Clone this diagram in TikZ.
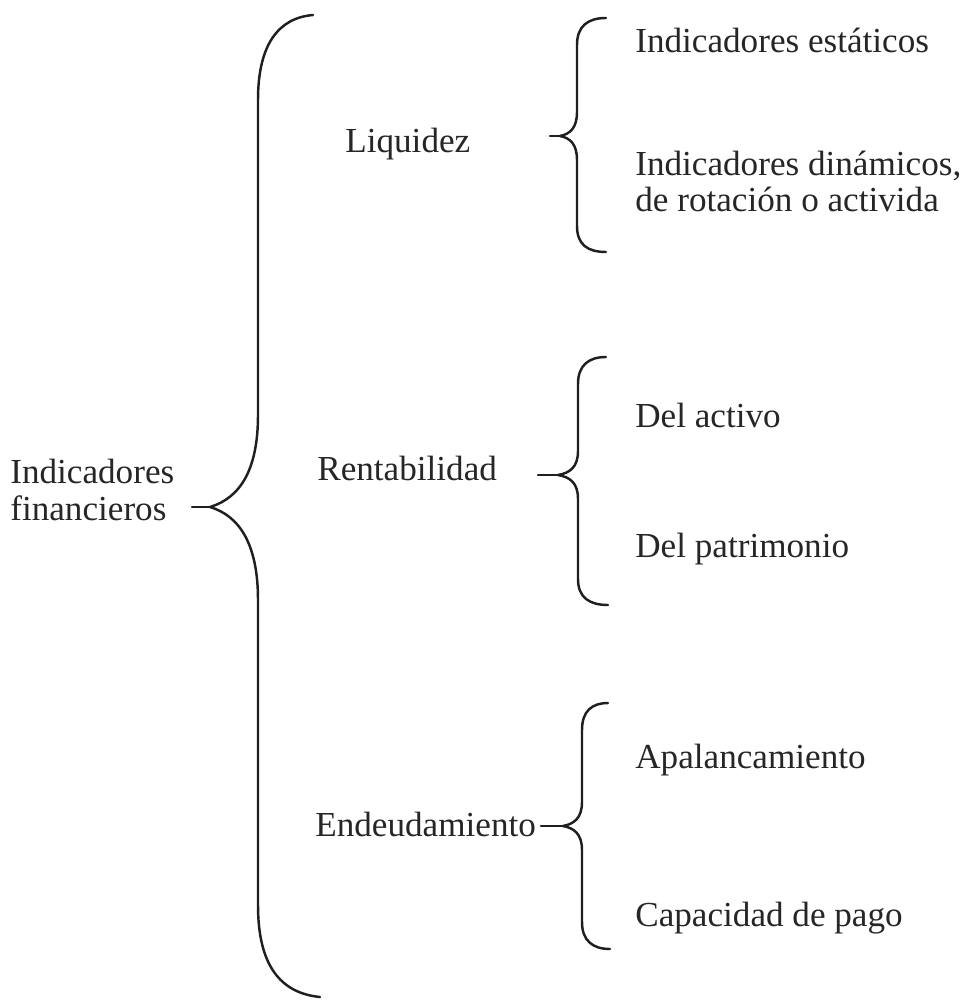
\documentclass[tikz,border=0pt]{standalone}
\usepackage{fontspec}
\setmainfont{Liberation Serif}
\tikzset{
  texto/.style={anchor=base west, inner sep=0pt, align=left, text=black!85,
    font=\fontsize{20}{21}\selectfont},
  llave/.style={line width=1.4pt, draw=black!88, line cap=round},
}
\begin{document}
\begin{tikzpicture}[x=0.02cm,y=-0.02cm]
\useasboundingbox (0,0) rectangle (967,1000);

\node[texto] (ind) at (10,520) {Indicadores\\financieros};
\node[texto] (liq) at (345,153) {Liquidez};
\node[texto] (ren) at (317,480) {Rentabilidad};
\node[texto] (end) at (315,836) {Endeudamiento};

\node[texto] (est) at (635,53) {Indicadores estáticos};
\node[texto] (din) at (635,212) {Indicadores dinámicos,\\de rotación o activida};
\node[texto] (dac) at (635,427) {Del activo};
\node[texto] (dpa) at (635,557) {Del patrimonio};
\node[texto] (apa) at (635,768) {Apalancamiento};
\node[texto] (cap) at (635,926) {Capacidad de pago};

% llave grande
\coordinate (g0) at (192,507);
\coordinate (g1) at (210,507);
\draw[llave] (g0) -- (g1);
\draw[llave] (g1) .. controls (240,498) and (258,470) .. (258,415) -- (258,100)
  .. controls (258,45) and (278,18) .. (313,15);
\draw[llave] (g1) .. controls (240,516) and (258,545) .. (258,600) -- (258,905)
  .. controls (258,965) and (280,993) .. (320,997);

% llave liquidez
\coordinate (a0) at (550,136);
\coordinate (a1) at (560,136);
\draw[llave] (a0) -- (a1);
\draw[llave] (a1) .. controls (570,134) and (577,128) .. (577,112) -- (577,45)
  .. controls (577,26) and (588,18) .. (606,18);
\draw[llave] (a1) .. controls (570,138) and (577,144) .. (577,160) -- (577,226)
  .. controls (577,245) and (588,252) .. (606,252);

% llave rentabilidad
\coordinate (b0) at (538,475);
\coordinate (b1) at (558,475);
\draw[llave] (b0) -- (b1);
\draw[llave] (b1) .. controls (570,473) and (578,467) .. (578,451) -- (578,384)
  .. controls (578,365) and (589,357) .. (606,357);
\draw[llave] (b1) .. controls (570,477) and (578,483) .. (578,499) -- (578,579)
  .. controls (578,598) and (590,605) .. (608,605);

% llave endeudamiento
\coordinate (c0) at (541,826);
\coordinate (c1) at (563,826);
\draw[llave] (c0) -- (c1);
\draw[llave] (c1) .. controls (574,824) and (582,818) .. (582,802) -- (582,730)
  .. controls (582,711) and (592,703) .. (608,703);
\draw[llave] (c1) .. controls (574,828) and (582,834) .. (582,850) -- (582,922)
  .. controls (582,941) and (593,949) .. (610,949);
\end{tikzpicture}
\end{document}
